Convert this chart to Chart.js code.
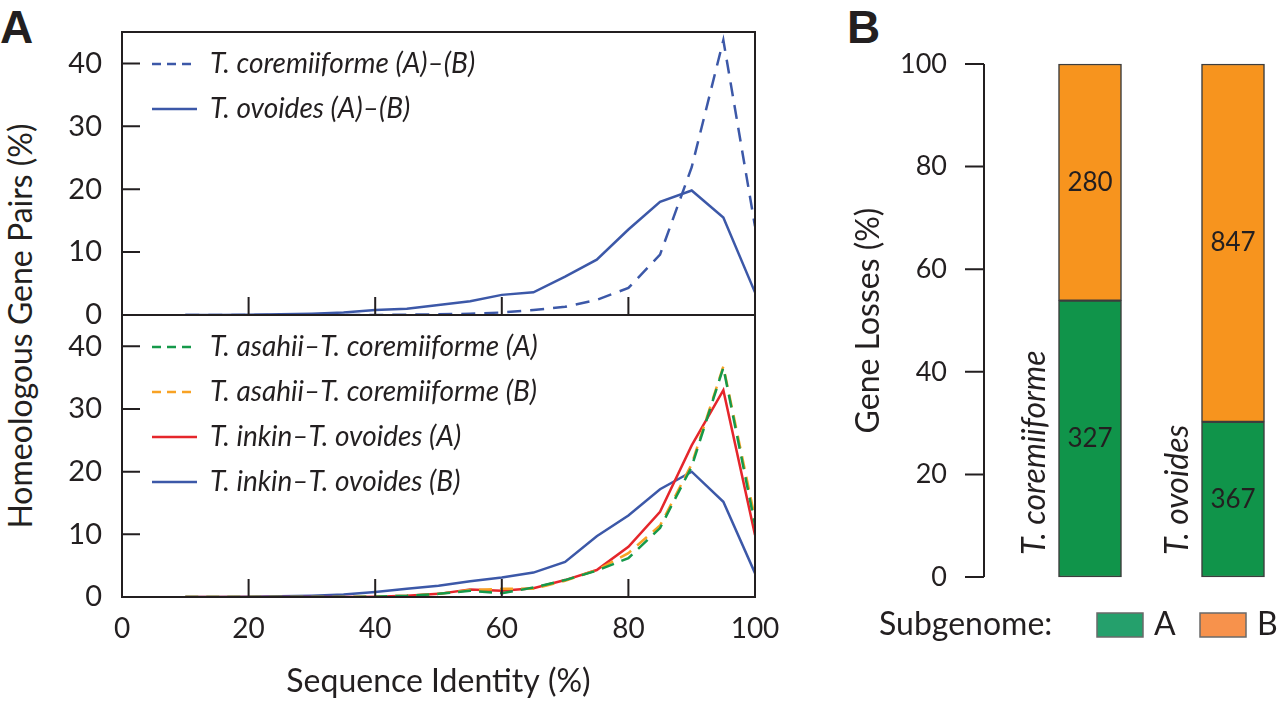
<!DOCTYPE html>
<html>
<head>
<meta charset="utf-8">
<script src="https://cdn.jsdelivr.net/npm/chart.js@4.4.0/dist/chart.umd.min.js"></script>
<style>
    html, body { margin: 0; padding: 0; background: #fff; overflow: hidden; }
    body { width: 1280px; height: 701px; position: relative; font-family: Lato, sans-serif; color: #231f20; }
    canvas { position: absolute; }
    .panel { position: absolute; font: bold 46px "Liberation Sans", Arial, sans-serif; line-height: 1; }
    #yTitleA {
        position: absolute; left: 20px; top: 326px;
        transform: translate(-50%, -50%) rotate(-90deg);
        font-size: 32px; white-space: nowrap; line-height: 1;
    }
</style>
</head>
<body>
<div class="panel" style="left:0;top:4px">A</div>
<div class="panel" style="left:847px;top:4px">B</div>
<div id="yTitleA">Homeologous Gene Pairs (%)</div>
<canvas id="topChart" width="800" height="332" style="left:0;top:0"></canvas>
<canvas id="bottomChart" width="800" height="403" style="left:0;top:298px"></canvas>
<canvas id="lossChart" width="460" height="701" style="left:820px;top:0"></canvas>

<script>
// ===== Data (panel A: sequence identity distributions, %) =====
const identity = [10, 15, 20, 25, 30, 35, 40, 45, 50, 55, 60, 65, 70, 75, 80, 85, 90, 95, 100];

const coremiiformeAB = [0, 0, 0, 0, 0, 0, 0, 0.05, 0.1, 0.2, 0.4, 0.8, 1.3, 2.4, 4.3, 9.6, 23.5, 43.7, 14.1];
const ovoidesAB      = [0, 0, 0.05, 0.1, 0.2, 0.4, 0.8, 1.0, 1.6, 2.2, 3.2, 3.6, 6.1, 8.8, 13.6, 18.0, 19.8, 15.5, 3.6];

const asahiiCoremA  = [0, 0, 0, 0, 0, 0, 0.05, 0.2, 0.5, 1.0, 0.6, 1.5, 2.7, 4.2, 6.2, 11.0, 20.8, 36.6, 11.5];
const asahiiCoremB  = [0, 0, 0, 0, 0, 0, 0.05, 0.2, 0.5, 1.1, 1.3, 1.3, 2.6, 4.3, 7.0, 11.4, 21.2, 36.8, 12.5];
const inkinOvoidesA = [0, 0, 0, 0, 0, 0, 0.05, 0.2, 0.5, 1.2, 1.0, 1.4, 2.7, 4.3, 8.0, 13.6, 24.2, 33.0, 9.9];
const inkinOvoidesB = [0, 0, 0.05, 0.1, 0.2, 0.4, 0.8, 1.3, 1.8, 2.5, 3.1, 3.9, 5.6, 9.7, 13.0, 17.2, 20.0, 15.2, 3.8];

// ===== Data (panel B: gene losses per subgenome, counts) =====
const species = ["T. coremiiforme", "T. ovoides"];
const lossesA = [327, 367];
const lossesB = [280, 847];

const BLUE = "#3c58a8", RED = "#e5262b", GREEN = "#15994a", ORANGE = "#f8a224", INK = "#231f20";

Chart.defaults.font.family = "Lato";
Chart.defaults.color = INK;

const toPoints = (ys) => identity.map((x, i) => ({ x: x, y: ys[i] }));
const share = (arr, i) => arr[i] / (lossesA[i] + lossesB[i]) * 100;

function lineSet(label, values, color, dash) {
    return {
        label: label,
        data: toPoints(values),
        borderColor: color,
        borderWidth: 2.5,
        borderDash: dash || [],
        pointRadius: 0,
        tension: 0,
        fill: false
    };
}

// ===== Plugins =====
// box around the plot with inward tick marks
const framePlugin = {
    id: "frame",
    afterDatasetsDraw(chart) {
        const { ctx, chartArea: a, scales: { x, y } } = chart;
        ctx.save();
        ctx.strokeStyle = INK;
        ctx.lineWidth = 2;
        ctx.strokeRect(a.left, a.top, a.right - a.left, a.bottom - a.top);
        ctx.beginPath();
        y.ticks.forEach(t => {
            const py = y.getPixelForValue(t.value);
            ctx.moveTo(a.left, py);
            ctx.lineTo(a.left + 18, py);
        });
        x.ticks.forEach(t => {
            if (t.value <= x.min || t.value >= x.max) return;
            const px = x.getPixelForValue(t.value);
            ctx.moveTo(px, a.bottom);
            ctx.lineTo(px, a.bottom - 18);
        });
        ctx.stroke();
        ctx.restore();
    }
};

// legend drawn inside the plot, top left
const insideLegend = {
    id: "insideLegend",
    afterDraw(chart) {
        const { ctx, chartArea: a } = chart;
        ctx.save();
        ctx.font = "italic 28px Lato";
        ctx.textBaseline = "middle";
        chart.data.datasets.forEach((ds, i) => {
            const ly = a.top + 32 + i * 45;
            ctx.strokeStyle = ds.borderColor;
            ctx.lineWidth = ds.borderWidth;
            ctx.setLineDash(ds.borderDash.length ? [9, 6] : []);
            ctx.beginPath();
            ctx.moveTo(a.left + 30, ly);
            ctx.lineTo(a.left + 75, ly);
            ctx.stroke();
            ctx.setLineDash([]);
            ctx.fillStyle = INK;
            ctx.fillText(ds.label, a.left + 88, ly);
        });
        ctx.restore();
    }
};

function panelOptions(padding, showX) {
    return {
        responsive: false,
        animation: false,
        layout: { padding: padding },
        plugins: { legend: { display: false }, tooltip: { enabled: false } },
        scales: {
            x: {
                type: "linear", min: 0, max: 100, display: showX,
                ticks: { stepSize: 20, padding: 15, font: { size: 28 } },
                grid: { display: false, drawTicks: false },
                border: { display: false },
                title: { display: showX, text: "Sequence Identity (%)", font: { size: 32 }, padding: { top: 0, bottom: 0 } },
                afterFit: s => { if (showX) s.height = 104; s.paddingLeft = 0; s.paddingRight = 0; }
            },
            y: {
                min: 0, max: 45,
                ticks: { stepSize: 10, includeBounds: false, padding: 20, font: { size: 29 } },
                grid: { display: false, drawTicks: false },
                border: { display: false },
                afterFit: s => { s.width = 122; s.paddingTop = 0; s.paddingBottom = 0; }
            }
        }
    };
}

// ===== Panel A, top =====
new Chart(document.getElementById("topChart"), {
    type: "line",
    data: {
        datasets: [
            lineSet("T. coremiiforme (A)–(B)", coremiiformeAB, BLUE, [14, 9]),
            lineSet("T. ovoides (A)–(B)", ovoidesAB, BLUE)
        ]
    },
    options: panelOptions({ top: 32, right: 45, bottom: 17, left: 0 }, false),
    plugins: [framePlugin, insideLegend]
});

// ===== Panel A, bottom =====
new Chart(document.getElementById("bottomChart"), {
    type: "line",
    data: {
        datasets: [
            lineSet("T. asahii–T. coremiiforme (A)", asahiiCoremA, GREEN, [13, 8]),
            lineSet("T. asahii–T. coremiiforme (B)", asahiiCoremB, ORANGE, [13, 8]),
            lineSet("T. inkin–T. ovoides (A)", inkinOvoidesA, RED),
            lineSet("T. inkin–T. ovoides (B)", inkinOvoidesB, BLUE)
        ]
    },
    options: panelOptions({ top: 17, right: 45, bottom: 0, left: 0 }, true),
    plugins: [framePlugin, insideLegend]
});

// ===== Panel B =====
// y axis line drawn apart from the bars, plus rotated species names
const lossAxis = {
    id: "lossAxis",
    afterDraw(chart, args, opts) {
        const { ctx, chartArea: a, scales: { y } } = chart;
        const ax = a.left - opts.gap;
        ctx.save();
        ctx.strokeStyle = INK;
        ctx.lineWidth = 2;
        ctx.beginPath();
        ctx.moveTo(ax, y.getPixelForValue(y.min));
        ctx.lineTo(ax, y.getPixelForValue(y.max));
        y.ticks.forEach(t => {
            const py = y.getPixelForValue(t.value);
            ctx.moveTo(ax - opts.tick, py);
            ctx.lineTo(ax, py);
        });
        ctx.stroke();

        ctx.font = "italic 32px Lato";
        ctx.fillStyle = INK;
        ctx.textAlign = "left";
        ctx.textBaseline = "middle";
        chart.getDatasetMeta(0).data.forEach((bar, i) => {
            ctx.save();
            ctx.translate(bar.x - 55, y.getPixelForValue(0) - 22);
            ctx.rotate(-Math.PI / 2);
            ctx.fillText(chart.data.labels[i], 0, 0);
            ctx.restore();
        });
        ctx.restore();
    }
};

const segmentLabels = {
    id: "segmentLabels",
    afterDatasetsDraw(chart) {
        const { ctx } = chart;
        ctx.save();
        ctx.font = "26px Lato";
        ctx.fillStyle = INK;
        ctx.textAlign = "center";
        ctx.textBaseline = "middle";
        chart.data.datasets.forEach((ds, d) => {
            chart.getDatasetMeta(d).data.forEach((bar, i) => {
                ctx.fillText(ds.counts[i], bar.x, (bar.y + bar.base) / 2);
            });
        });
        ctx.restore();
    }
};

const subgenomeLegend = {
    id: "subgenomeLegend",
    afterDraw(chart, args, opts) {
        const { ctx, chartArea: a } = chart;
        const ly = a.bottom + 48;
        ctx.save();
        ctx.font = "32px Lato";
        ctx.fillStyle = INK;
        ctx.textBaseline = "middle";
        ctx.fillText("Subgenome:", opts.titleX, ly);
        chart.data.datasets.forEach((ds, i) => {
            const bx = opts.boxX[i];
            ctx.fillStyle = ds.legendColor;
            ctx.fillRect(bx, ly - 12, 46, 24);
            ctx.strokeStyle = "#6a6a6a";
            ctx.lineWidth = 1.5;
            ctx.strokeRect(bx, ly - 12, 46, 24);
            ctx.fillStyle = INK;
            ctx.fillText(ds.label, bx + 57, ly);
        });
        ctx.restore();
    }
};

new Chart(document.getElementById("lossChart"), {
    type: "bar",
    data: {
        labels: species,
        datasets: [
            { label: "A", data: species.map((s, i) => share(lossesA, i)), counts: lossesA,
              backgroundColor: "#10944a", legendColor: "#25a06c" },
            { label: "B", data: species.map((s, i) => share(lossesB, i)), counts: lossesB,
              backgroundColor: "#f7941e", legendColor: "#f7924c" }
        ]
    },
    options: {
        responsive: false,
        animation: false,
        layout: { padding: { top: 64, right: 47, bottom: 124, left: 0 } },
        datasets: {
            bar: { barThickness: 63, borderWidth: 1.5, borderColor: "#3d3d3d", borderSkipped: false, clip: false }
        },
        plugins: {
            legend: { display: false },
            tooltip: { enabled: false },
            lossAxis: { gap: 106, tick: 19 },
            subgenomeLegend: { titleX: 59, boxX: [277, 380] }
        },
        scales: {
            x: { stacked: true, display: false, offset: false },
            y: {
                stacked: true, min: 0, max: 100,
                ticks: { stepSize: 20, padding: 143, font: { size: 27 } },
                grid: { display: false, drawTicks: false },
                border: { display: false },
                title: { display: true, text: "Gene Losses (%)", font: { size: 32 }, padding: { top: 29, bottom: 0 } },
                afterFit: s => { s.width = 270; s.paddingTop = 0; s.paddingBottom = 0; }
            }
        }
    },
    plugins: [lossAxis, segmentLabels, subgenomeLegend]
});
</script>
</body>
</html>
